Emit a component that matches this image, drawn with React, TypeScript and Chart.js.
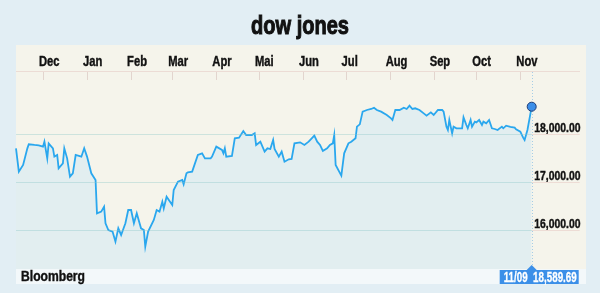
import React, { useEffect, useRef } from 'react';
import { Chart, registerables } from 'chart.js';

Chart.register(...registerables);

// ---- data ----
const startDate = '2015-11-12';
const dayOffsets = [
  0, 2, 5, 8, 9, 13, 16, 19, 20, 22, 23, 26, 27, 29, 30, 33, 34, 36, 38, 40, 42, 46, 48, 50, 53, 56, 57, 60, 62, 63,
  65, 68, 70, 72, 74, 77, 79, 81, 83, 85, 88, 90, 91, 93, 97, 99, 101, 103, 104, 106, 110, 111, 114, 117, 118, 120,
  121, 124, 128, 131, 133, 137, 138, 141, 145, 146, 147, 148, 152, 154, 157, 160, 162, 166, 168, 169, 172, 175, 177,
  179, 181, 182, 185, 187, 189, 192, 194, 196, 200, 203, 206, 210, 212, 214, 216, 219, 221, 223, 224, 225, 229, 231,
  234, 236, 239, 240, 242, 244, 247, 250, 252, 254, 257, 261, 264, 265, 267, 270, 273, 275, 277, 279, 281, 284, 287,
  289, 292, 294, 297, 300, 301, 303, 304, 305, 307, 308, 310, 314, 315, 317, 318, 320, 321, 323, 324, 326, 328, 329,
  331, 333, 335, 337, 339, 342, 343, 345, 348, 351, 352, 355, 357, 358, 360, 363,
];
const closeValues = [
  17723, 17236, 17375, 17722, 17806, 17792, 17785, 17757, 17861, 17514, 17826, 17722, 17549, 17583, 17306, 17410,
  17722, 17514, 17132, 17201, 17583, 17548, 17723, 17550, 17201, 17063, 16368, 16403, 16507, 16160, 16021, 15986,
  15778, 16056, 15917, 16160, 16437, 16437, 16160, 16368, 16056, 16021, 15674, 15986, 16229, 16437, 16403, 16611,
  16472, 16715, 16542, 16854, 17028, 17063, 16972, 17201, 17223, 17236, 17583, 17618, 17514, 17514, 17549, 17757,
  17688, 17618, 17722, 17549, 17563, 17931, 17944, 18083, 18000, 18000, 18035, 17792, 17861, 17653, 17722, 17708,
  17896, 17708, 17549, 17653, 17444, 17493, 17500, 17826, 17847, 17792, 17861, 17986, 17861, 17792, 17667, 17722,
  17792, 17826, 18000, 17375, 17153, 17618, 17826, 17861, 17931, 18174, 18222, 18486, 18521, 18542, 18569, 18521,
  18486, 18417, 18347, 18313, 18521, 18521, 18569, 18542, 18611, 18542, 18556, 18521, 18451, 18403, 18472, 18417,
  18521, 18521, 18486, 18174, 18104, 18313, 18035, 18174, 18139, 18139, 18368, 18208, 18139, 18313, 18174, 18278,
  18264, 18313, 18208, 18278, 18243, 18313, 18139, 18125, 18104, 18174, 18139, 18194, 18167, 18153, 18118, 18069,
  17944, 17896, 18104, 18589.69,
];
const monthLabels = ['Dec', 'Jan', 'Feb', 'Mar', 'Apr', 'Mai', 'Jun', 'Jul', 'Aug', 'Sep', 'Oct', 'Nov'];
const firstMonthYear = 2015;
const firstMonthIndex = 11; // December
const yTickValues = [16000, 17000, 18000];
const yMin = 15208;
const yMax = 19312.5;
const chartTitle = 'dow jones';
const sourceLabel = 'Bloomberg';

// ---- derived ----
const DAY = 86400000;
const startMs = Date.parse(startDate + 'T00:00:00Z');
const monthStartDays = monthLabels.map(
  (_, i) => (Date.UTC(firstMonthYear, firstMonthIndex + i, 1) - startMs) / DAY
);
const points = dayOffsets.map((d, i) => ({ x: d, y: closeValues[i] }));
const lastIdx = closeValues.length - 1;
const lastDate = new Date(startMs + dayOffsets[lastIdx] * DAY);
const lastDateLabel =
  String(lastDate.getUTCMonth() + 1).padStart(2, '0') + '/' + String(lastDate.getUTCDate()).padStart(2, '0');
const fmt = (v: number) =>
  v.toLocaleString('en-US', { minimumFractionDigits: 2, maximumFractionDigits: 2 });
const lastValueLabel = fmt(closeValues[lastIdx]);

const FONT = '"Liberation Sans", Arial, sans-serif';
const CONDENSE = 0.8;

const decorPlugin = {
  id: 'decor',
  beforeDraw(chart: any) {
    const { ctx, width, height, chartArea } = chart;
    ctx.save();
    ctx.fillStyle = '#e2eef4';
    ctx.fillRect(0, 0, width, height);
    ctx.fillStyle = '#f5f4eb';
    ctx.fillRect(16, 45, 570, chartArea.bottom - 45);
    ctx.fillStyle = '#f3f8fa';
    ctx.fillRect(16, chartArea.bottom, 570, 15);
    ctx.restore();
  },
  beforeDatasetsDraw(chart: any) {
    const { ctx, chartArea, scales } = chart;
    const px = scales.x.getPixelForValue(dayOffsets[lastIdx]);
    ctx.save();
    ctx.strokeStyle = '#a6cde6';
    ctx.lineWidth = 1;
    ctx.setLineDash([1, 2]);
    ctx.beginPath();
    ctx.moveTo(Math.round(px) + 0.5, chartArea.top);
    ctx.lineTo(Math.round(px) + 0.5, chartArea.bottom - 4);
    ctx.stroke();
    ctx.restore();
  },
  afterDraw(chart: any) {
    const { ctx, chartArea, scales } = chart;
    ctx.save();
    // header line
    ctx.strokeStyle = '#ecdcd5';
    ctx.lineWidth = 1;
    ctx.beginPath();
    ctx.moveTo(16, chartArea.top - 0.5);
    ctx.lineTo(580, chartArea.top - 0.5);
    ctx.stroke();
    // month tick marks
    ctx.strokeStyle = '#e2d5ce';
    const top = scales.xTop;
    top.ticks.forEach((t: any) => {
      const x = Math.round(top.getPixelForValue(t.value)) + 0.5;
      ctx.beginPath();
      ctx.moveTo(x, chartArea.top);
      ctx.lineTo(x, chartArea.top + 8);
      ctx.stroke();
    });
    // title
    ctx.fillStyle = '#111';
    ctx.strokeStyle = '#111';
    ctx.lineWidth = 1;
    ctx.font = 'bold 25px ' + FONT;
    ctx.textAlign = 'center';
    ctx.textBaseline = 'alphabetic';
    ctx.fillText(chartTitle, 300, 34, 98);
    ctx.strokeText(chartTitle, 300, 34, 98);
    // source
    ctx.font = 'bold 14px ' + FONT;
    ctx.textAlign = 'left';
    ctx.lineWidth = 0.4;
    ctx.fillText(sourceLabel, 21, 281, 64);
    ctx.strokeText(sourceLabel, 21, 281, 64);
    // last value tag
    const px = scales.x.getPixelForValue(dayOffsets[lastIdx]);
    const by = chartArea.bottom + 1;
    ctx.fillStyle = '#3b8fe8';
    ctx.fillRect(px - 32, by, 79, 14);
    ctx.beginPath();
    ctx.moveTo(px - 5, by);
    ctx.lineTo(px, by - 5);
    ctx.lineTo(px + 5, by);
    ctx.closePath();
    ctx.fill();
    ctx.fillStyle = '#ffffff';
    ctx.strokeStyle = '#ffffff';
    ctx.lineWidth = 0.3;
    ctx.font = 'bold 14px ' + FONT;
    ctx.textAlign = 'left';
    const tag = lastDateLabel + '  ' + lastValueLabel;
    ctx.fillText(tag, px - 28, by + 12, 73);
    ctx.strokeText(tag, px - 28, by + 12, 73);
    ctx.restore();
  },
};

export default function App() {
  const ref = useRef<HTMLCanvasElement | null>(null);

  useEffect(() => {
    const canvas = ref.current;
    if (!canvas) return;
    const ctx = canvas.getContext('2d') as any;
    const origFill = ctx.fillText.bind(ctx);
    const origStroke = ctx.strokeText.bind(ctx);
    ctx.fillText = (text: string, x: number, y: number, maxWidth?: number) => {
      const mw = maxWidth === undefined ? ctx.measureText(text).width * CONDENSE : maxWidth;
      origFill(text, x, y, mw);
    };
    ctx.strokeText = (text: string, x: number, y: number, maxWidth?: number) => {
      const mw = maxWidth === undefined ? ctx.measureText(text).width * CONDENSE : maxWidth;
      origStroke(text, x, y, mw);
    };

    const chart = new Chart(canvas, {
      type: 'line',
      data: {
        datasets: [
          {
            data: points,
            borderColor: '#2aa7ee',
            borderWidth: 1.8,
            backgroundColor: '#e2eef0',
            fill: 'start',
            tension: 0,
            clip: false as any,
            pointRadius: (c: any) => (c.dataIndex === lastIdx ? 4.5 : 0),
            pointHoverRadius: 0,
            pointBackgroundColor: '#3c8ee8',
            pointBorderColor: '#1d3c78',
            pointBorderWidth: 1,
          },
        ],
      },
      options: {
        responsive: false,
        animation: false,
        events: [],
        layout: { padding: { left: 16, top: 45, right: 0, bottom: 24 } },
        plugins: { legend: { display: false }, tooltip: { enabled: false }, title: { display: false } },
        scales: {
          x: {
            type: 'linear',
            min: 0,
            max: dayOffsets[lastIdx],
            display: false,
          },
          xTop: {
            type: 'linear',
            axis: 'x',
            position: 'top',
            min: 0,
            max: dayOffsets[lastIdx],
            afterBuildTicks: (scale: any) => {
              scale.ticks = monthStartDays.map((v) => ({ value: v }));
            },
            afterFit: (scale: any) => {
              scale.height = 27;
            },
            grid: { display: false },
            border: { display: false },
            ticks: {
              autoSkip: false,
              maxRotation: 0,
              align: 'start',
              labelOffset: -4,
              padding: -7,
              color: '#111',
              textStrokeColor: '#111',
              textStrokeWidth: 0.4,
              font: { family: FONT, size: 14, weight: 'bold' },
              callback: (_v: any, i: number) => monthLabels[i],
            },
          },
          y: {
            type: 'linear',
            position: 'right',
            min: yMin,
            max: yMax,
            afterBuildTicks: (scale: any) => {
              scale.ticks = yTickValues.map((v) => ({ value: v }));
            },
            afterFit: (scale: any) => {
              scale.width = 68.3;
            },
            grid: {
              z: 1,
              color: 'rgba(140,200,200,0.38)',
              tickColor: '#eddcd5',
              drawTicks: true,
              tickLength: 48,
            },
            border: { display: false },
            ticks: {
              crossAlign: 'near',
              padding: -45.5,
              labelOffset: -7,
              color: '#111',
              textStrokeColor: '#111',
              textStrokeWidth: 0.4,
              font: { family: FONT, size: 13, weight: 'bold' },
              callback: (v: any) => fmt(Number(v)),
            },
          },
        },
      },
      plugins: [decorPlugin],
    } as any);

    return () => {
      chart.destroy();
    };
  }, []);

  return (
    <div style={{ position: 'fixed', left: 0, top: 0, width: 600, height: 293 }}>
      <canvas ref={ref} width={600} height={293} style={{ display: 'block' }} />
    </div>
  );
}
